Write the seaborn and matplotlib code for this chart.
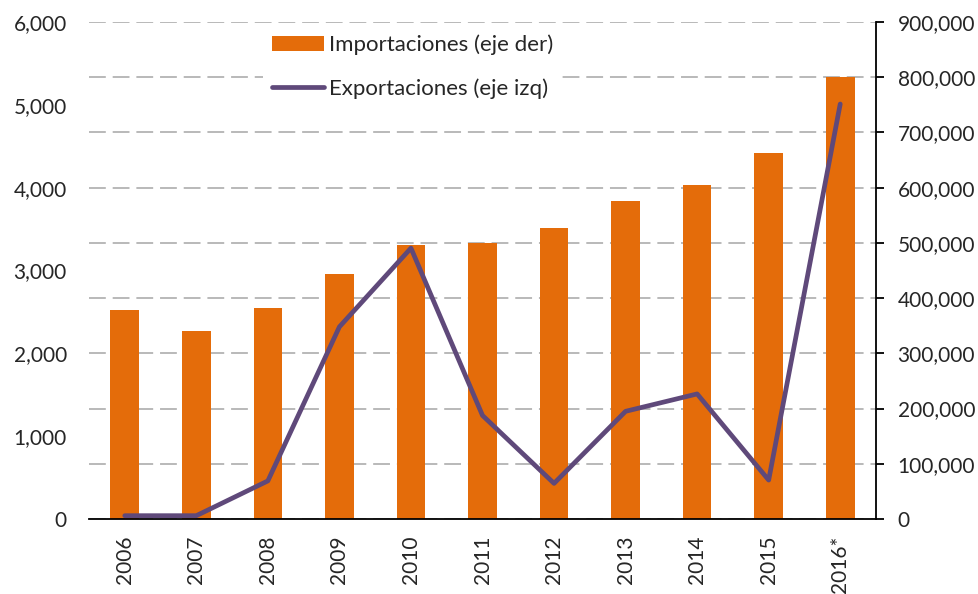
import numpy as np
import matplotlib
matplotlib.use("Agg")
import matplotlib.pyplot as plt
import matplotlib.ticker as mticker
import seaborn as sns

# data
years = ["2006", "2007", "2008", "2009", "2010", "2011", "2012", "2013", "2014", "2015", "2016*"]
importaciones = [379000, 340000, 382000, 444000, 496000, 500000, 527000, 575000, 605000, 663000, 800000]
exportaciones = [40, 40, 460, 2320, 3270, 1250, 430, 1300, 1510, 470, 5010]

label_imp = "Importaciones (eje der)"
label_exp = "Exportaciones (eje izq)"

bar_color = "#E46C0A"
line_color = "#5F497A"
grid_color = "#A6A6A6"

sns.set_style("white")
plt.rcParams["font.family"] = ["Lato", "DejaVu Sans"]
plt.rcParams["font.size"] = 15

fig = plt.figure(figsize=(9.79, 5.94), dpi=100)
ax = fig.add_axes([89 / 979, 75 / 594, 787 / 979, 497 / 594])

# bars -> right axis scale
sns.barplot(x=years, y=importaciones, ax=ax, color=bar_color, saturation=1,
            width=0.4, linewidth=0, label=label_imp)

ax2 = ax.twinx()
n = len(years)
sns.lineplot(x=np.arange(n), y=exportaciones, ax=ax2, color=line_color,
             linewidth=3.4, solid_capstyle="round", label=label_exp)

# axis sides: bars scale on the right, line scale on the left
ax.yaxis.tick_right()
ax.yaxis.set_label_position("right")
ax2.yaxis.tick_left()
ax2.yaxis.set_label_position("left")

ax.set_ylim(0, 900000)
ax.set_yticks(np.arange(0, 900001, 100000))
ax2.set_ylim(0, 6000)
ax2.set_yticks(np.arange(0, 6001, 1000))
fmt = mticker.FuncFormatter(lambda v, p: f"{int(v):,}")
ax.yaxis.set_major_formatter(fmt)
ax2.yaxis.set_major_formatter(fmt)

ax.set_xlim(-0.5, n - 0.5)
ax.set_xticks(np.arange(-0.5, n, 1))
ax.set_xticklabels([])
ax.set_xticks(np.arange(n), minor=True)
ax.set_xticklabels(years, minor=True, rotation=90)
ax.tick_params(axis="x", which="major", direction="out", length=5.5, width=1.3, color="black")
ax.tick_params(axis="x", which="minor", length=0, pad=12, labelsize=15)
ax.tick_params(axis="y", direction="out", length=5.5, width=1.3, color="black", pad=10, labelsize=15)
ax2.tick_params(axis="y", length=0, pad=16, labelsize=15)

for s in ["top", "left"]:
    ax.spines[s].set_visible(False)
for s in ["right", "bottom"]:
    ax.spines[s].set_color("black")
    ax.spines[s].set_linewidth(1.3)
for s in ax2.spines.values():
    s.set_visible(False)

# dashed horizontal grid behind the bars
ax.set_axisbelow(True)
ax.yaxis.grid(True, color=grid_color, linewidth=1.1, linestyle=(0, (11, 4.5)))
ax.xaxis.grid(False)

ax.set_xlabel("")
ax.set_ylabel("")
ax2.set_xlabel("")
ax2.set_ylabel("")

# combined legend
h1, l1 = ax.get_legend_handles_labels()
h2, l2 = ax2.get_legend_handles_labels()
for a in (ax, ax2):
    if a.get_legend() is not None:
        a.get_legend().remove()
leg = ax2.legend(h1 + h2, l1 + l2, loc="upper left", bbox_to_anchor=(0.221, 0.993),
                 borderaxespad=0, frameon=True, fancybox=False, framealpha=1,
                 facecolor="white", edgecolor="none", fontsize=16,
                 handlelength=2.35, handleheight=0.65, handletextpad=0.22,
                 labelspacing=1.05, borderpad=0.4)

fig.savefig("out.png", dpi=100)
